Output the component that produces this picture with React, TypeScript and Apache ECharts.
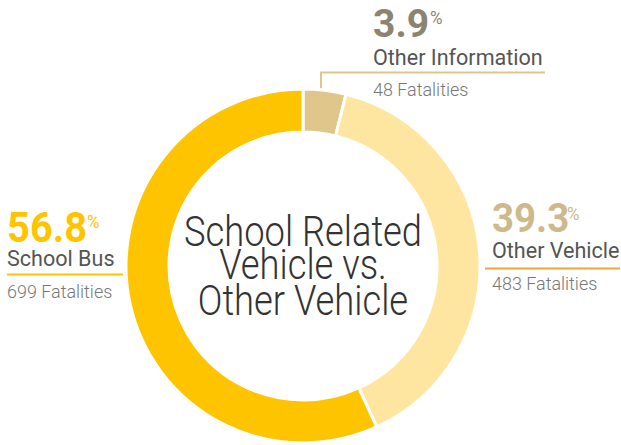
import React, { useEffect, useRef } from "react";
import * as echarts from "echarts";

const categories = ["Other Information", "Other Vehicle", "School Bus"];
const fatalities = [48, 483, 699];
const sliceColors = ["#dfc78b", "#ffe6a0", "#ffc400"];
const pctColors = ["#8b8471", "#cdb98b", "#ffc400"];
const centerTitle = ["School Related", "Vehicle vs.", "Other Vehicle"];

const FONT = "Roboto";

export default function App() {
  const ref = useRef<HTMLDivElement>(null);
  useEffect(() => {
    if (!ref.current) return;
    const chart = echarts.init(ref.current, null, { renderer: "svg" });
    const total = fatalities.reduce((a, b) => a + b, 0);
    const pcts = fatalities.map((v) => ((v / total) * 100).toFixed(1));

    const txt = (text: string, x: number, y: number, size: number, weight: any, fill: string, align: string, sx: number) => ({
      type: "text",
      x,
      y,
      scaleX: sx,
      silent: true,
      style: {
        text,
        fontFamily: FONT,
        fontSize: size,
        fontWeight: weight,
        fill,
        textAlign: align,
        textVerticalAlign: "middle",
      },
    });

    const layouts = [
      { i: 0, x: 373, pctY: 23.5, pctSize: 39, pctSx: 1.0, sufX: 430, sufY: 17, nameY: 57, fatY: 89 },
      { i: 1, x: 492, pctY: 219, pctSize: 40, pctSx: 0.96, sufX: 567, sufY: 213, nameY: 250.5, fatY: 283.5 },
      { i: 2, x: 7, pctY: 228, pctSize: 42, pctSx: 0.95, sufX: 87, sufY: 221.5, nameY: 258, fatY: 291 },
    ];

    const graphics: any[] = [];
    centerTitle.forEach((line, k) => {
      graphics.push(txt(line, 303, [231, 264.5, 300][k], 43, 300, "#333333", "center", 0.845));
    });
    layouts.forEach((l) => {
      graphics.push(txt(pcts[l.i], l.x, l.pctY, l.pctSize, 700, pctColors[l.i], "left", l.pctSx));
      graphics.push(txt("%", l.sufX, l.sufY, 19, 400, pctColors[l.i], "left", 0.9));
      graphics.push(txt(categories[l.i], l.x, l.nameY, 22, 400, "#555555", "left", 0.98));
      graphics.push(txt(fatalities[l.i] + " Fatalities", l.x, l.fatY, 18.5, 300, "#777777", "left", 0.97));
    });
    graphics.push({
      type: "polyline",
      silent: true,
      shape: { points: [[321, 88], [321, 72.5], [545, 72.5]] },
      style: { stroke: "#dfc78b", lineWidth: 2, fill: null },
    });
    graphics.push({
      type: "line",
      silent: true,
      shape: { x1: 485, y1: 268.5, x2: 620, y2: 268.5 },
      style: { stroke: "#f0a53c", lineWidth: 2 },
    });
    graphics.push({
      type: "line",
      silent: true,
      shape: { x1: 7, y1: 274.5, x2: 123, y2: 274.5 },
      style: { stroke: "#ffc400", lineWidth: 2 },
    });

    chart.setOption({
      animation: false,
      backgroundColor: "#ffffff",
      series: [
        {
          type: "pie",
          center: [303, 266],
          radius: [134, 177],
          startAngle: 90,
          clockwise: true,
          silent: true,
          label: { show: false },
          labelLine: { show: false },
          emphasis: { disabled: true },
          itemStyle: { borderColor: "#ffffff", borderWidth: 3 },
          data: categories.map((name, i) => ({
            name,
            value: fatalities[i],
            itemStyle: { color: sliceColors[i] },
          })),
        },
      ],
      graphic: graphics,
    });
    return () => chart.dispose();
  }, []);
  return <div ref={ref} style={{ position: "absolute", left: 0, top: 0, width: 621, height: 445 }} />;
}
